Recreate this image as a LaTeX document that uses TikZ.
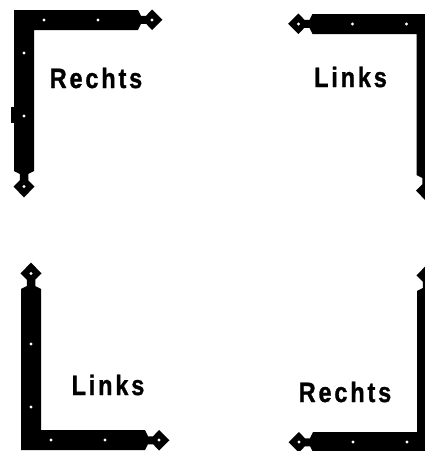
\documentclass[tikz,border=0pt]{standalone}
\usepackage{fontspec}
\newfontfamily\lblfont[LetterSpace=12,FakeBold=1.2]{Liberation Sans Bold}
\begin{document}
\begin{tikzpicture}[x=1pt,y=-1pt]
\tikzset{
  lbl/.style={font=\lblfont\fontsize{28}{28}\selectfont, anchor=base, inner sep=0pt, xscale=0.84},
  hole/.style={fill=white, draw=none},
  hinge/.pic={
    \fill[black] (0,0) -- (124,0) -- (127,5.75) -- (132.1,5.75) -- (138,-0.5) -- (148.5,9.75)
      -- (138,20) -- (132.1,13.75) -- (127,13.75) -- (124,20) -- (20,20)
      -- (20,161) -- (14.25,164) -- (14.25,170.3) -- (20.5,176.5) -- (10,187.5)
      -- (-0.5,176.5) -- (5.75,170.3) -- (5.75,164) -- (0,161) -- cycle;
    \foreach \p in {(30,10),(84,10),(138,10),(10,43),(10,106),(10,176.5)}
      \fill[hole] \p circle (1.6);
  }
}
\useasboundingbox (0,0) rectangle (425,451);
\clip (0,0) rectangle (425,451);
\pic (tl) at (14,10) {hinge};
\fill[black] (11,107) rectangle (14.5,123);
\pic[xscale=-1] (tr) at (436.5,14) {hinge};
\pic[yscale=-1] (bl) at (21,450) {hinge};
\pic[xscale=-1,yscale=-1] (br) at (437,452) {hinge};
\node[lbl] (t1) at (96,88) {Rechts};
\node[lbl] (t2) at (350.5,87) {Links};
\node[lbl] (t3) at (108,395) {Links};
\node[lbl] (t4) at (345,402) {Rechts};
\end{tikzpicture}
\end{document}
